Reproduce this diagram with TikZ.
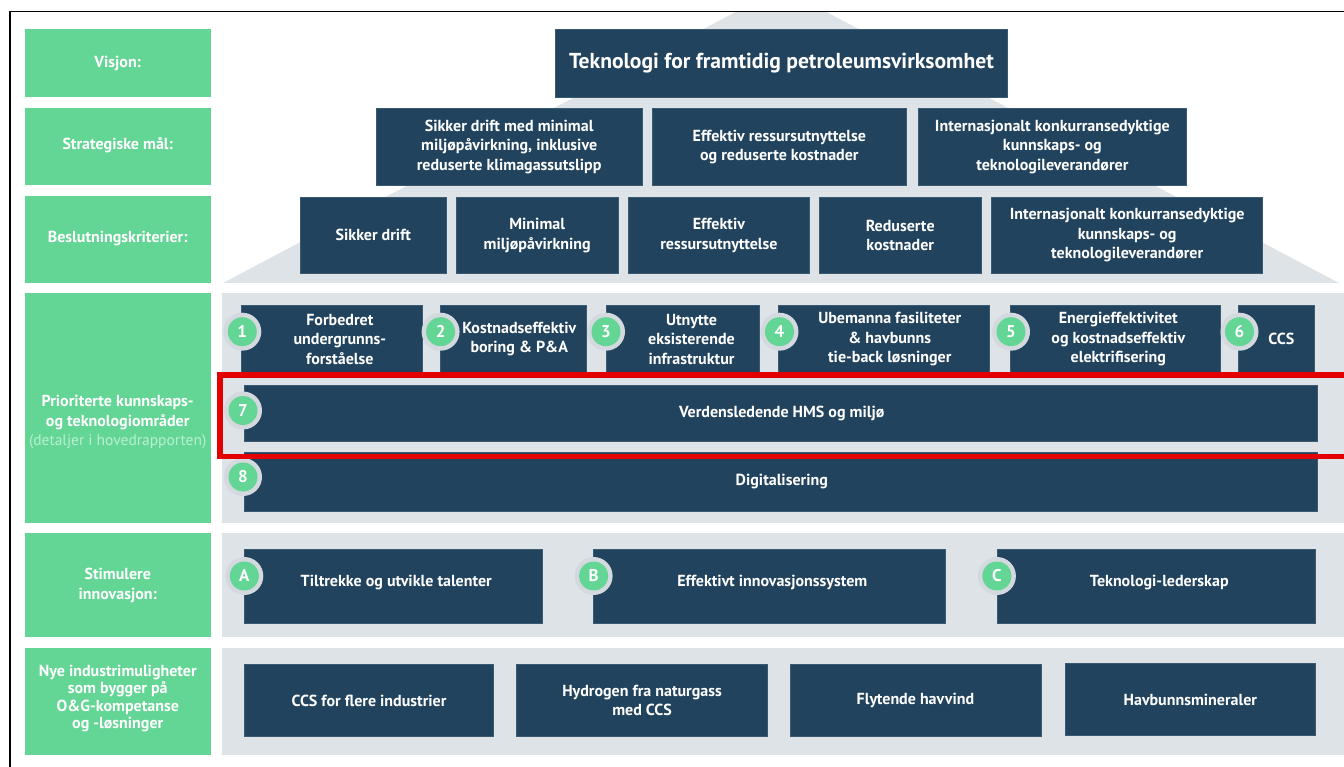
\documentclass[tikz,border=0pt]{standalone}
\usepackage{fontspec}
\setmainfont{PT Sans}
\definecolor{navy}{HTML}{21435D}
\definecolor{navyedge}{HTML}{3A5A72}
\definecolor{lgreen}{HTML}{63D594}
\definecolor{band}{HTML}{DEE3E7}
\definecolor{ringgray}{HTML}{D3D9DE}
\definecolor{paletxt}{HTML}{B9F0D0}
\definecolor{redline}{HTML}{E30000}
\newcommand\mybox[7]{%
  \node[dbox, minimum width={#4-#2}, minimum height={#5-#3}] (#1) at ({(#2+#4)/2},{(#3+#5)/2}) {};
  \node[dtext] (#1t) at ([xshift=#6]#1.center) {#7};}
\newcommand\mycirc[4]{%
  \node[ringc] (#1r) at (#2,#3) {};
  \node[numc] (#1) at (#2,#3) {#4};}
\begin{document}
\begin{tikzpicture}[x=1pt,y=-1pt,
  dbox/.style={fill=navy, draw=navyedge, line width=0.6pt, inner sep=0pt, outer sep=0pt},
  dtext/.style={text=white, font=\bfseries\fontsize{16}{19.5}\selectfont, align=center, inner sep=0pt},
  gbox/.style={fill=lgreen, inner sep=0pt, outer sep=0pt},
  gtext/.style={text=white, font=\bfseries\fontsize{16}{19.5}\selectfont, align=center, inner sep=0pt},
  ringc/.style={circle, fill=ringgray, minimum size=38pt, inner sep=0pt},
  numc/.style={circle, fill=lgreen, minimum size=29pt, inner sep=0pt, text=white, font=\bfseries\fontsize{17}{17}\selectfont},
]
\useasboundingbox (0,0) rectangle (1344,767);
\clip (0,0) rectangle (1344,767);
\fill[white] (0,0) rectangle (1344,767);
% pyramid background
\begin{scope}
  \clip (0,12) rectangle (1344,283);
  \fill[band] (223,283) -- (781,-12) -- (1339,283) -- cycle;
\end{scope}
% gray bands
\fill[band] (222,293.3) rectangle (1344,522.7);
\fill[band] (222,533.3) rectangle (1344,637.3);
\fill[band] (222,648.3) rectangle (1344,755);
% frame
\draw[line width=1.5pt, black] (10,767) -- (10,11.5) -- (1344,11.5);
% left column
\node[gbox, minimum width=186.5pt, minimum height=68pt, anchor=north west] (g1) at (24.5,29.3) {};
\node[gtext] (g1t) at (g1.center) {Visjon:};
\node[gbox, minimum width=186.5pt, minimum height=77pt, anchor=north west] (g2) at (24.5,108.3) {};
\node[gtext] (g2t) at ([yshift=2pt]g2.center) {Strategiske mål:};
\node[gbox, minimum width=186.5pt, minimum height=86.4pt, anchor=north west] (g3) at (24.5,196.3) {};
\node[gtext] (g3t) at ([yshift=1pt]g3.center) {Beslutningskriterier:};
\node[gbox, minimum width=186.5pt, minimum height=229.4pt, anchor=north west] (g4) at (24.5,293.3) {};
\node[gtext] (g4t) at (117.7,422.5) {Prioriterte kunnskaps-\\og teknologiområder\\{\mdseries\fontsize{15.5}{19.5}\selectfont\color{paletxt}(detaljer i hovedrapporten)}};
\node[gbox, minimum width=186.5pt, minimum height=104pt, anchor=north west] (g5) at (24.5,533.3) {};
\node[gtext] (g5t) at (g5.center) {Stimulere\\innovasjon:};
\node[gbox, minimum width=186.5pt, minimum height=106.7pt, anchor=north west] (g6) at (24.5,648.3) {};
\node[gtext, font=\bfseries\fontsize{16}{17.5}\selectfont] (g6t) at ([yshift=3pt]g6.center) {Nye industrimuligheter\\som bygger på\\O\&G-kompetanse\\og -løsninger};
% vision
\mybox{v}{555.4}{29.3}{1007.6}{97.3}{0pt}{\fontsize{21.6}{24}\selectfont Teknologi for framtidig petroleumsvirksomhet}
% strategic goals
\mybox{s1}{376.3}{108.3}{642}{185.3}{0pt}{Sikker drift med minimal\\miljøpåvirkning, inklusive\\reduserte klimagassutslipp}
\mybox{s2}{652.3}{108.3}{906.4}{185.3}{0pt}{Effektiv ressursutnyttelse\\og reduserte kostnader}
\mybox{s3}{918.4}{108.3}{1186.3}{185.3}{0pt}{Internasjonalt konkurransedyktige\\kunnskaps- og\\teknologileverandører}
% criteria
\mybox{c1}{300.4}{197.3}{446.1}{273.3}{0pt}{Sikker drift}
\mybox{c2}{456.4}{197.3}{618}{273.3}{0pt}{Minimal\\miljøpåvirkning}
\mybox{c3}{628.7}{197.3}{809.1}{273.3}{0pt}{Effektiv\\ressursutnyttelse}
\mybox{c4}{819.4}{197.3}{981}{273.3}{0pt}{Reduserte\\kostnader}
\mybox{c5}{991.7}{197.3}{1262.6}{273.3}{0pt}{Internasjonalt konkurransedyktige\\kunnskaps- og\\teknologileverandører}
% priority areas
\mybox{p1}{241.5}{305.7}{422.2}{372.5}{8pt}{Forbedret\\undergrunns-\\forståelse}
\mybox{p2}{440.6}{305.7}{585.9}{372.5}{6pt}{Kostnadseffektiv\\boring \& P\&A}
\mybox{p3}{606}{305.7}{759}{372.5}{9pt}{Utnytte\\eksisterende\\infrastruktur}
\mybox{p4}{778.3}{305.7}{989.2}{372.5}{6pt}{Ubemanna fasiliteter\\\& havbunns\\tie-back løsninger}
\mybox{p5}{1010.6}{305.7}{1220}{372.5}{3pt}{Energieffektivitet\\og kostnadseffektiv\\elektrifisering}
\mybox{p6}{1238.5}{305.7}{1314.3}{372.5}{5pt}{CCS}
\mybox{p7}{244.3}{385.5}{1317.3}{441.5}{1pt}{Verdensledende HMS og miljø}
\mybox{p8}{244.3}{452.3}{1317.3}{511}{1pt}{Digitalisering}
\mycirc{n1}{242.3}{331.7}{1}
\mycirc{n2}{440.6}{331.7}{2}
\mycirc{n3}{606}{331.7}{3}
\mycirc{n4}{779.5}{331.7}{4}
\mycirc{n5}{1011}{331.7}{5}
\mycirc{n6}{1239.5}{331.7}{6}
\mycirc{n7}{243}{410.5}{7}
\mycirc{n8}{243}{477}{8}
% innovation
\node[dbox, minimum width=297.9pt, minimum height=74pt, anchor=north west] (ia) at (244.3,549.3) {};
\node[dtext] (iat) at ([xshift=3pt,yshift=4pt]ia.center) {Tiltrekke og utvikle talenter};
\node[dbox, minimum width=351.4pt, minimum height=74pt, anchor=north west] (ib) at (593.6,549.3) {};
\node[dtext] (ibt) at ([xshift=3pt,yshift=4pt]ib.center) {Effektivt innovasjonssystem};
\node[dbox, minimum width=318.8pt, minimum height=74pt, anchor=north west] (ic) at (996.9,549.3) {};
\node[dtext] (ict) at ([xshift=3pt,yshift=4pt]ic.center) {Teknologi-lederskap};
\mycirc{na}{244.3}{576}{A}
\mycirc{nb}{593.6}{576}{B}
\mycirc{nc}{996.9}{576}{C}
% new industries
\mybox{d1}{244.3}{664.3}{493.7}{736.5}{0pt}{CCS for flere industrier}
\mybox{d2}{516.5}{664.3}{767.6}{736.5}{0pt}{Hydrogen fra naturgass\\med CCS}
\mybox{d3}{789.9}{664.3}{1041}{736.5}{0pt}{Flytende havvind}
\mybox{d4}{1065}{663.5}{1315.7}{735.5}{0pt}{Havbunnsmineraler}
% red highlight
\draw[redline, line width=5.5pt] (1360,375) -- (219.8,375) -- (219.8,456.3) -- (1360,456.3);
\end{tikzpicture}
\end{document}
